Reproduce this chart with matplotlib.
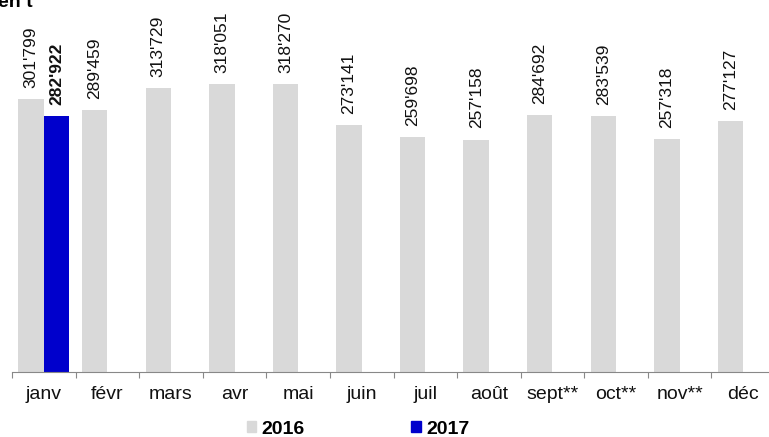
import matplotlib.pyplot as plt
import numpy as np
from matplotlib.patches import Patch

months = ["janv", "févr", "mars", "avr", "mai", "juin", "juil", "août",
          "sept**", "oct**", "nov**", "déc"]
values_2016 = [301799, 289459, 313729, 318051, 318270, 273141, 259698,
               257158, 284692, 283539, 257318, 277127]
values_2017 = [282922]

color_2016 = "#d9d9d9"
color_2017 = "#0000cc"


def fmt(v):
    return f"{v:,}".replace(",", "'")


plt.rcParams["font.family"] = ["Liberation Sans", "DejaVu Sans"]

W, H = 769, 437
fig = plt.figure(figsize=(W / 100, H / 100), dpi=100)
ax = fig.add_axes([12 / W, 1 - 372 / H, 763 / W, 372 / H])

x = np.arange(len(months))
bw = 0.4
bars16 = ax.bar(x - bw / 2, values_2016, width=bw, color=color_2016)
bars17 = ax.bar(x[:len(values_2017)] + bw / 2, values_2017, width=bw, color=color_2017)

for b, v in zip(bars16, values_2016):
    ax.annotate(fmt(v), (b.get_x() + b.get_width() / 2, v), xytext=(0, 8),
                textcoords="offset points", rotation=90, ha="center", va="bottom",
                fontsize=12.5, color="#111111")
for b, v in zip(bars17, values_2017):
    ax.annotate(fmt(v), (b.get_x() + b.get_width() / 2, v), xytext=(0, 8),
                textcoords="offset points", rotation=90, ha="center", va="bottom",
                fontsize=12.5, fontweight="bold", color="#111111")

ax.set_xlim(-0.5, len(months) - 0.5)
ax.set_ylim(0, 411500)

# boundary ticks below the axis, labels centred on each month
ax.set_xticks(np.arange(len(months) + 1) - 0.5)
ax.set_xticklabels([])
ax.set_xticks(x, minor=True)
ax.set_xticklabels(months, minor=True, fontsize=14, color="#111111")
ax.tick_params(axis="x", which="major", length=4, color="#888888", direction="out")
ax.tick_params(axis="x", which="minor", length=0, pad=10)
ax.set_yticks([])
for s in ["left", "right", "top"]:
    ax.spines[s].set_visible(False)
ax.spines["bottom"].set_color("#888888")
ax.patch.set_alpha(0)

fig.text(-2 / W, 1 - 7 / H, "en t", fontsize=14, fontweight="bold",
         ha="left", va="baseline")

handles = [Patch(color=color_2016, label="2016"), Patch(color=color_2017, label="2017")]
fig.legend(handles=handles, loc="center", bbox_to_anchor=(358 / W, 1 - 429 / H),
           ncol=2, frameon=False, prop={"size": 14, "weight": "bold"},
           handlelength=0.5, handleheight=0.5, handletextpad=0.25,
           columnspacing=5.5, borderpad=0, borderaxespad=0)

fig.savefig("out.png", dpi=100)
